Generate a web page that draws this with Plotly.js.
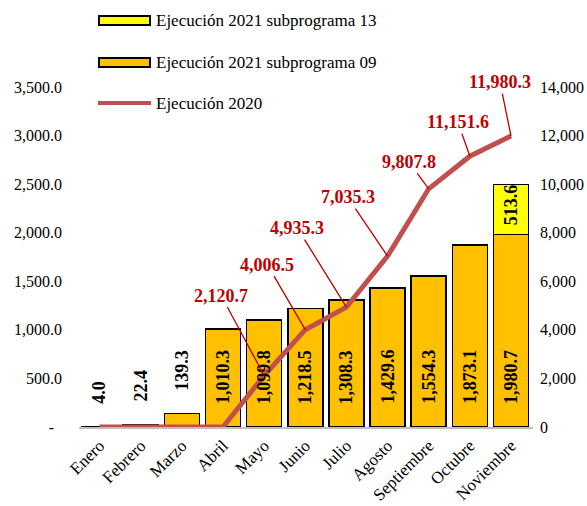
<!DOCTYPE html>
<html>
<head>
<meta charset="utf-8">
<script src="https://cdn.plot.ly/plotly-3.0.1.min.js"></script>
<style>html,body{margin:0;padding:0;background:#fff;}#chart{width:587px;height:506px;}</style>
</head>
<body>
<div id="chart"></div>
<script>
const categories = ['Enero','Febrero','Marzo','Abril','Mayo','Junio','Julio','Agosto','Septiembre','Octubre','Noviembre'];
const sub09 = [4.0, 22.4, 139.3, 1010.3, 1099.8, 1218.5, 1308.3, 1429.6, 1554.3, 1873.1, 1980.7];
const sub13 = [null, null, null, null, null, null, null, null, null, null, 513.6];
const ejec2020 = [0, 0, 0, 0, 2120.7, 4006.5, 4935.3, 7035.3, 9807.8, 11151.6, 11980.3];
const leftTickVals = [0, 500, 1000, 1500, 2000, 2500, 3000, 3500];
const leftTickText = ['-\u00a0\u00a0', '500.0', '1,000.0', '1,500.0', '2,000.0', '2,500.0', '3,000.0', '3,500.0'];
const rightTickVals = [0, 2000, 4000, 6000, 8000, 10000, 12000, 14000];
const rightTickText = ['0', '2,000', '4,000', '6,000', '8,000', '10,000', '12,000', '14,000'];
const seriesNames = ['Ejecución 2021 subprograma 13', 'Ejecución 2021 subprograma 09', 'Ejecución 2020'];

// label offsets (pixels) for the 2020 line labels, per category index
const lineLabelOffsets = {4:[-43,-80],5:[-38,-65],6:[-49,-79],7:[-40,-59],8:[-20,-27],9:[-12,-34],10:[-11,-54]};

const FONT = '"Liberation Serif", "Times New Roman", serif';
const fmt1 = v => v.toLocaleString('en-US',{minimumFractionDigits:1, maximumFractionDigits:1});

const M = {l:79, r:54, t:87, b:79};
const W = 587, H = 506;
const PW = W - M.l - M.r, PH = H - M.t - M.b;
const px = x => (x - M.l) / PW;
const py = y => (H - M.b - y) / PH;

const traces = [
  {type:'bar', x:categories, y:sub09, name:seriesNames[1], marker:{color:'#FFC000', line:{color:'#000', width:1.5}}, showlegend:false, hoverinfo:'skip'},
  {type:'bar', x:categories, y:sub13, name:seriesNames[0], marker:{color:'#FFFF00', line:{color:'#000', width:1.5}}, showlegend:false, hoverinfo:'skip'},
  {type:'scatter', mode:'lines', x:categories, y:ejec2020, yaxis:'y2', name:seriesNames[2], line:{color:'#C0504D', width:5}, cliponaxis:false, showlegend:false, hoverinfo:'skip'}
];

const annotations = [];
sub09.forEach((v,i) => {
  const outside = v < 200;
  annotations.push({x:categories[i], y: outside ? v : 0, xref:'x', yref:'y', text:'<b>'+fmt1(v)+'</b>', showarrow:false, textangle:-90, yanchor:'bottom', yshift:21, font:{family:FONT, size:18, color:'#000'}});
});
sub13.forEach((v,i) => {
  if (v == null) return;
  annotations.push({x:categories[i], y: sub09[i] + v, xref:'x', yref:'y', text:'<b>'+fmt1(v)+'</b>', showarrow:false, textangle:-90, yanchor:'top', yshift:2, font:{family:FONT, size:18, color:'#000'}});
});
ejec2020.forEach((v,i) => {
  const off = lineLabelOffsets[i];
  if (!off) return;
  annotations.push({x:categories[i], y:v, xref:'x', yref:'y2', text:'<b>'+fmt1(v)+'</b>', showarrow:true, arrowhead:0, arrowwidth:1.3, arrowcolor:'#C00000', standoff:0, ax:off[0], ay:off[1], font:{family:FONT, size:18, color:'#C00000'}});
});

// custom legend
const shapes = [
  {type:'rect', xref:'paper', yref:'paper', x0:px(99), x1:px(150), y0:py(25), y1:py(16), fillcolor:'#FFFF00', line:{color:'#000', width:2}},
  {type:'rect', xref:'paper', yref:'paper', x0:px(99), x1:px(150), y0:py(67), y1:py(58), fillcolor:'#FFC000', line:{color:'#000', width:2}},
  {type:'line', xref:'paper', yref:'paper', x0:px(98), x1:px(151), y0:py(103), y1:py(103), line:{color:'#C0504D', width:4}}
];
[[seriesNames[0],20.5],[seriesNames[1],62.5],[seriesNames[2],103]].forEach(([t,y]) => {
  annotations.push({xref:'paper', yref:'paper', x:px(154), y:py(y), xanchor:'left', yanchor:'middle', text:t, showarrow:false, font:{family:FONT, size:17, color:'#000'}});
});

const layout = {
  width:W, height:H, margin:M, paper_bgcolor:'#fff', plot_bgcolor:'#fff',
  barmode:'stack', bargap:0.15, showlegend:false,
  font:{family:FONT, size:16, color:'#000'},
  xaxis:{type:'category', tickangle:-45, showline:true, linecolor:'#BFBFBF', linewidth:2, ticks:'', showgrid:false, zeroline:false, tickfont:{family:FONT, size:17, color:'#000'}, fixedrange:true},
  yaxis:{range:[0,3500], tickvals:leftTickVals, ticktext:leftTickText, showgrid:false, zeroline:false, showline:false, ticks:'', ticklabelstandoff:16, tickfont:{family:FONT, size:16, color:'#000'}, fixedrange:true},
  yaxis2:{range:[0,14000], overlaying:'y', side:'right', tickvals:rightTickVals, ticktext:rightTickText, showgrid:false, zeroline:false, showline:false, ticks:'', ticklabelstandoff:6, tickfont:{family:FONT, size:16, color:'#000'}, fixedrange:true},
  annotations:annotations, shapes:shapes
};

Plotly.newPlot('chart', traces, layout, {displayModeBar:false, staticPlot:true});
</script>
</body>
</html>
